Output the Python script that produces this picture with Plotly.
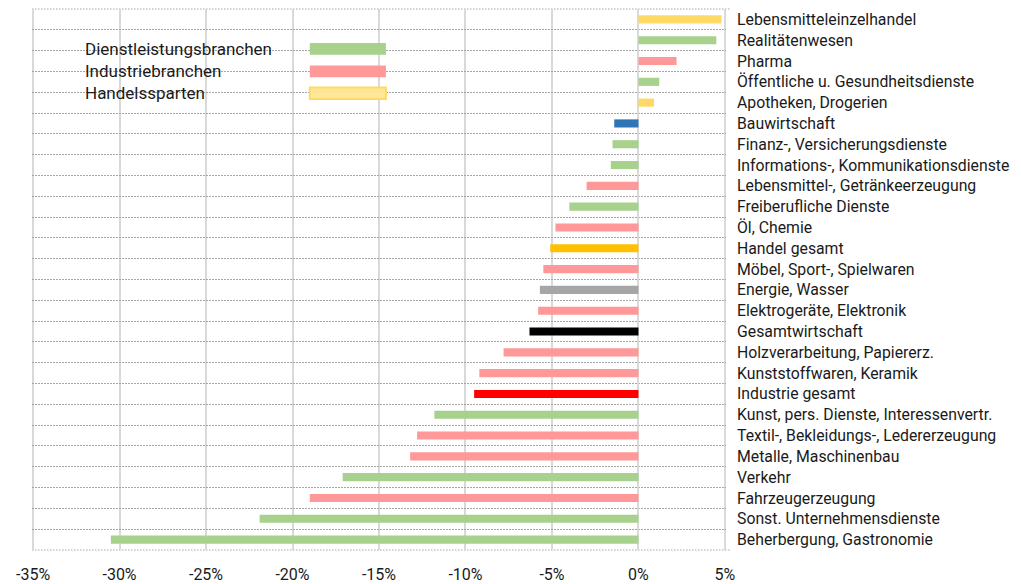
import plotly.graph_objects as go

categories = [
    "Lebensmitteleinzelhandel",
    "Realitätenwesen",
    "Pharma",
    "Öffentliche u. Gesundheitsdienste",
    "Apotheken, Drogerien",
    "Bauwirtschaft",
    "Finanz-, Versicherungsdienste",
    "Informations-, Kommunikationsdienste",
    "Lebensmittel-, Getränkeerzeugung",
    "Freiberufliche Dienste",
    "Öl, Chemie",
    "Handel gesamt",
    "Möbel, Sport-, Spielwaren",
    "Energie, Wasser",
    "Elektrogeräte, Elektronik",
    "Gesamtwirtschaft",
    "Holzverarbeitung, Papiererz.",
    "Kunststoffwaren, Keramik",
    "Industrie gesamt",
    "Kunst, pers. Dienste, Interessenvertr.",
    "Textil-, Bekleidungs-, Ledererzeugung",
    "Metalle, Maschinenbau",
    "Verkehr",
    "Fahrzeugerzeugung",
    "Sonst. Unternehmensdienste",
    "Beherbergung, Gastronomie",
]
values = [4.8, 4.5, 2.2, 1.2, 0.9, -1.4, -1.5, -1.6, -3.0, -4.0, -4.8, -5.1, -5.5,
          -5.7, -5.8, -6.3, -7.8, -9.2, -9.5, -11.8, -12.8, -13.2, -17.1, -19.0,
          -21.9, -30.5]
groups = ["H", "D", "I", "D", "H", "Bau", "D", "D", "I", "D", "I", "HG", "I",
          "E", "I", "G", "I", "I", "IG", "D", "I", "I", "D", "I", "D", "D"]
group_colors = {
    "D": "#A9D18E", "I": "#FF9999", "H": "#FFD966", "Bau": "#2E75B6",
    "HG": "#FFC000", "E": "#A6A6A6", "G": "#000000", "IG": "#FF0000",
}
legend_labels = ["Dienstleistungsbranchen", "Industriebranchen", "Handelssparten"]
legend_fill = ["#A9D18E", "#FF9999", "#FFE699"]
legend_line = ["#A9D18E", "#FF9999", "#FFD966"]
x_ticks = [-35, -30, -25, -20, -15, -10, -5, 0, 5]

FONT = "Roboto"
TXT = "#1a1a1a"
fig = go.Figure()
fig.add_trace(go.Bar(
    y=categories, x=values, orientation="h",
    marker=dict(color=[group_colors[g] for g in groups], line=dict(width=0)),
    hoverinfo="x+y",
))

legend_y = [1.42, 2.5, 3.55]
for lbl, fc, lc, yy in zip(legend_labels, legend_fill, legend_line, legend_y):
    fig.add_shape(type="rect", xref="x", yref="y", x0=-19.0, x1=-14.6,
                  y0=yy - 0.28, y1=yy + 0.28, fillcolor=fc,
                  line=dict(color=lc, width=2 if lc != fc else 0), layer="above")
    fig.add_annotation(xref="x", yref="y", x=-32.1, y=yy, text=lbl, showarrow=False,
                       xanchor="left", yanchor="middle",
                       font=dict(family=FONT, size=17, color=TXT))

# dotted frame lines at top and bottom of plot area
for yb in (0, 1):
    fig.add_shape(type="line", xref="paper", yref="paper", x0=0, x1=1.005, y0=yb, y1=yb,
                  line=dict(color="#A6A6A6", width=1, dash="1.5px,1.5px"), layer="below")

# browser body margin is 8px: compensate so plot area lands where the reference has it
fig.update_layout(
    width=1013, height=576,
    margin=dict(l=24, r=295, t=1, b=34, autoexpand=False),
    plot_bgcolor="white", paper_bgcolor="white",
    bargap=0.61, showlegend=False,
    font=dict(family=FONT, size=16, color=TXT),
)
fig.update_xaxes(
    range=[-35.06, 5.06], tickvals=x_ticks, ticktext=[f"{v}%" for v in x_ticks],
    showgrid=True, gridcolor="#D9D9D9", gridwidth=2,
    zeroline=True, zerolinecolor="#D9D9D9", zerolinewidth=2,
    showline=False, ticks="", tickfont=dict(size=16), ticklabelstandoff=13,
)
fig.update_yaxes(
    autorange="reversed", side="right", tickson="boundaries",
    showgrid=True, gridcolor="#A6A6A6", griddash="1.5px,1.5px", gridwidth=1,
    ticks="", ticklabelstandoff=10, showline=False, tickfont=dict(size=15.8),
)
fig.write_html("out.html")
